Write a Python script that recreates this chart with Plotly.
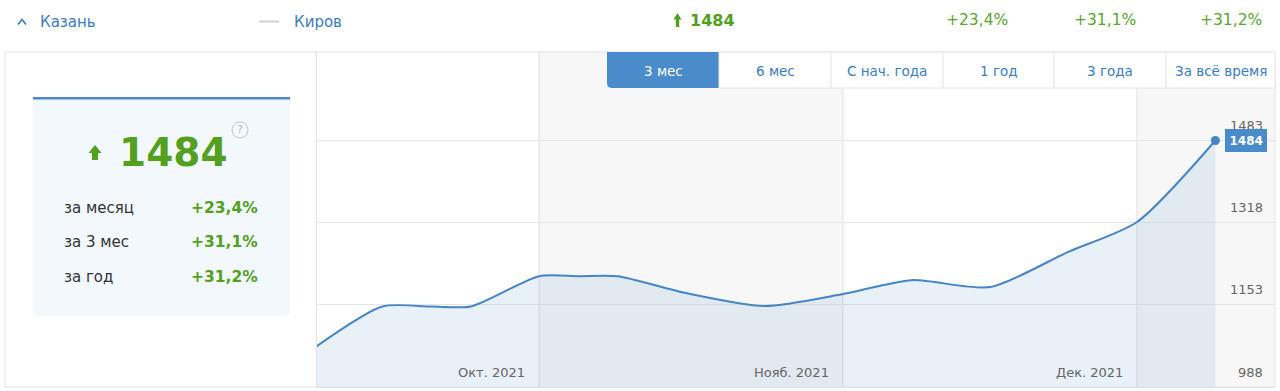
import plotly.graph_objects as go

# ---------------- data ----------------
dates = ["2021-09-08", "2021-09-15", "2021-09-20", "2021-09-24", "2021-10-01",
         "2021-10-05", "2021-10-09", "2021-10-16", "2021-10-24", "2021-11-01",
         "2021-11-08", "2021-11-16", "2021-11-24", "2021-12-01", "2021-12-09"]
values = [1066, 1150, 1150, 1150, 1211, 1211, 1211, 1177, 1151, 1175,
          1203, 1189, 1260, 1320, 1484]
y_ticks = [988, 1153, 1318, 1483]
month_starts = ["2021-10-01", "2021-11-01", "2021-12-01"]
month_labels = ["Окт. 2021", "Нояб. 2021", "Дек. 2021"]
x_range = ["2021-09-08 08:00", "2021-12-15 02:00"]
y_range = [988, 1662]
current_value = "1484"
change_labels = ["за месяц", "за 3 мес", "за год"]
change_values = ["+23,4%", "+31,1%", "+31,2%"]
periods = ["3 мес", "6 мес", "С нач. года", "1 год", "3 года", "За всё время"]
cities = ["Казань", "Киров"]

# ---------------- styling helpers ----------------
W, H = 1280, 391
FONT = "DejaVu Sans"
BLUE = "#4585c5"
LINK = "#3b7cbf"
GREEN = "#52a01e"
GREEN_L = "#5aa52f"


def px(x):
    return x / W


def py(y):
    return 1 - y / H


def path(points, close=True):
    s = "M " + " L ".join(f"{px(a):.5f},{py(b):.5f}" for a, b in points)
    return s + (" Z" if close else "")


fig = go.Figure()

# area + line
fig.add_trace(go.Scatter(
    x=dates, y=values, mode="lines",
    line=dict(color=BLUE, width=2, shape="spline", smoothing=0.7),
    fill="tozeroy", fillcolor="rgba(69,132,196,0.12)",
    hoverinfo="skip", showlegend=False))
fig.add_trace(go.Scatter(
    x=[dates[-1]], y=[values[-1]], mode="markers",
    marker=dict(color=BLUE, size=9), hoverinfo="skip", showlegend=False))

shapes = []
annotations = []

# background month bands
edges = [x_range[0]] + month_starts + [x_range[1]]
for i in range(len(edges) - 1):
    shapes.append(dict(type="rect", xref="x", yref="y domain",
                       x0=edges[i], x1=edges[i + 1], y0=0, y1=1,
                       fillcolor="#f7f7f7" if i % 2 else "#ffffff",
                       line=dict(width=0), layer="below"))
for m in month_starts:
    shapes.append(dict(type="line", xref="x", yref="y domain",
                       x0=m, x1=m, y0=0, y1=1,
                       line=dict(color="#e0e0e0", width=1), layer="below"))

# outer frame
shapes.append(dict(type="rect", xref="paper", yref="paper",
                   x0=px(5), x1=px(1275), y0=py(387), y1=py(52),
                   line=dict(color="#e3e3e3", width=1), fillcolor="rgba(0,0,0,0)",
                   layer="above"))

# left summary panel
shapes.append(dict(type="path", xref="paper", yref="paper",
                   path=path([(33, 98), (290, 98), (290, 311), (289, 314), (286, 316),
                              (37, 316), (34, 314), (33, 311)]),
                   fillcolor="#f3f8fd", line=dict(width=0), layer="above"))
shapes.append(dict(type="rect", xref="paper", yref="paper",
                   x0=px(33), x1=px(290), y0=py(99.5), y1=py(97),
                   fillcolor="#4a88c7", line=dict(width=0), layer="above"))
# big arrow
shapes.append(dict(type="path", xref="paper", yref="paper",
                   path=path([(95, 145), (101.5, 153), (98, 153), (98, 160),
                              (92, 160), (92, 153), (88.5, 153)]),
                   fillcolor=GREEN, line=dict(width=0), layer="above"))
# help icon
shapes.append(dict(type="circle", xref="paper", yref="paper",
                   x0=px(232), x1=px(248), y0=py(138), y1=py(122),
                   line=dict(color="#c4c4c4", width=1), fillcolor="rgba(0,0,0,0)",
                   layer="above"))
annotations.append(dict(xref="paper", yref="paper", x=px(240), y=py(130),
                        text="?", showarrow=False, xanchor="center", yanchor="middle",
                        font=dict(family=FONT, size=11, color="#b8b8b8")))

annotations.append(dict(xref="paper", yref="paper", x=px(173.5), y=py(152),
                        text=f"<b>{current_value}</b>", showarrow=False,
                        xanchor="center", yanchor="middle",
                        font=dict(family=FONT, size=39, color=GREEN)))
row_y = [208, 242.5, 277]
for lab, val, yy in zip(change_labels, change_values, row_y):
    annotations.append(dict(xref="paper", yref="paper", x=px(62), y=py(yy),
                            text=lab, showarrow=False, xanchor="left", yanchor="middle",
                            font=dict(family=FONT, size=15, color="#333333")))
    annotations.append(dict(xref="paper", yref="paper", x=px(260), y=py(yy),
                            text=f"<b>{val}</b>", showarrow=False, xanchor="right",
                            yanchor="middle",
                            font=dict(family=FONT, size=15.5, color=GREEN)))

# top row
shapes.append(dict(type="path", xref="paper", yref="paper",
                   path=path([(18, 24.5), (22, 19.5), (26, 24.5)], close=False),
                   line=dict(color=LINK, width=1.6), layer="above"))
annotations.append(dict(xref="paper", yref="paper", x=px(38), y=py(21.5),
                        text=cities[0], showarrow=False, xanchor="left", yanchor="middle",
                        font=dict(family=FONT, size=15, color=LINK)))
shapes.append(dict(type="line", xref="paper", yref="paper",
                   x0=px(259), x1=px(279), y0=py(21.5), y1=py(21.5),
                   line=dict(color="#d2d2d2", width=2), layer="above"))
annotations.append(dict(xref="paper", yref="paper", x=px(292), y=py(21.5),
                        text=cities[1], showarrow=False, xanchor="left", yanchor="middle",
                        font=dict(family=FONT, size=15, color=LINK)))
shapes.append(dict(type="path", xref="paper", yref="paper",
                   path=path([(677.5, 13), (681.5, 19.5), (679.2, 19.5), (679.2, 27),
                              (675.8, 27), (675.8, 19.5), (673.5, 19.5)]),
                   fillcolor=GREEN, line=dict(width=0), layer="above"))
annotations.append(dict(xref="paper", yref="paper", x=px(688), y=py(20.5),
                        text=f"<b>{current_value}</b>", showarrow=False,
                        xanchor="left", yanchor="middle",
                        font=dict(family=FONT, size=16, color=GREEN)))
for val, xr in zip(change_values, [1010, 1138, 1264]):
    annotations.append(dict(xref="paper", yref="paper", x=px(xr), y=py(20.5),
                            text=val, showarrow=False, xanchor="right", yanchor="middle",
                            font=dict(family=FONT, size=15.5, color=GREEN_L)))

# period buttons
btn_edges = [607, 719, 831, 943, 1054, 1166, 1275]
for i, lab in enumerate(periods):
    x0, x1 = btn_edges[i], btn_edges[i + 1]
    active = i == 0
    if active:
        shapes.append(dict(type="path", xref="paper", yref="paper",
                           path=path([(x0, 52), (x1, 52), (x1, 88), (x0 + 4, 88),
                                      (x0 + 1, 86.8), (x0, 84)]),
                           fillcolor="#4a8bcb", line=dict(width=0), layer="above"))
    else:
        shapes.append(dict(type="rect", xref="paper", yref="paper",
                           x0=px(x0), x1=px(x1), y0=py(88), y1=py(52),
                           fillcolor="#ffffff", line=dict(color="#e6e6e6", width=1),
                           layer="above"))
    annotations.append(dict(xref="paper", yref="paper", x=px((x0 + x1) / 2), y=py(71),
                            text=lab, showarrow=False, xanchor="center", yanchor="middle",
                            font=dict(family=FONT, size=13.5,
                                      color="#ffffff" if active else LINK)))

# month labels
for m, lab in zip(month_starts, month_labels):
    annotations.append(dict(xref="x", yref="paper", x=m, y=py(372), xshift=-12,
                            text=lab, showarrow=False, xanchor="right", yanchor="middle",
                            font=dict(family=FONT, size=13, color="#666666")))

# y labels (right, inside)
for t in y_ticks:
    annotations.append(dict(xref="paper", yref="y", x=px(1265), y=t, yshift=15,
                            text=str(t), showarrow=False, xanchor="right",
                            yanchor="middle",
                            font=dict(family=FONT, size=13, color="#666666")))

# value badge
annotations.append(dict(xref="x", yref="y", x=dates[-1], y=values[-1], xshift=10,
                        text=f"<b>{values[-1]}</b>", showarrow=False,
                        xanchor="left", yanchor="middle",
                        bgcolor="#4a8bcb", bordercolor="#4a8bcb", borderwidth=1,
                        borderpad=3.5,
                        font=dict(family=FONT, size=12, color="#ffffff")))

fig.update_layout(
    width=W, height=H,
    margin=dict(l=0, r=0, t=0, b=0),
    paper_bgcolor="#ffffff", plot_bgcolor="#ffffff",
    showlegend=False,
    xaxis=dict(domain=[px(317), px(1275)], range=x_range, type="date",
               showgrid=False, zeroline=False, showticklabels=False, ticks="",
               showline=True, linecolor="#e3e3e3", fixedrange=True),
    yaxis=dict(domain=[py(387), py(52)], range=y_range, tickvals=y_ticks,
               showgrid=True, gridcolor="#e6e6e6", gridwidth=1,
               zeroline=False, showticklabels=False, ticks="",
               showline=True, linecolor="#e3e3e3", fixedrange=True),
    shapes=shapes,
    annotations=annotations,
    font=dict(family=FONT),
)

fig.write_html("out.html", config={"displayModeBar": False},
               post_script="document.body.style.margin='0';document.body.style.overflow='hidden';")
